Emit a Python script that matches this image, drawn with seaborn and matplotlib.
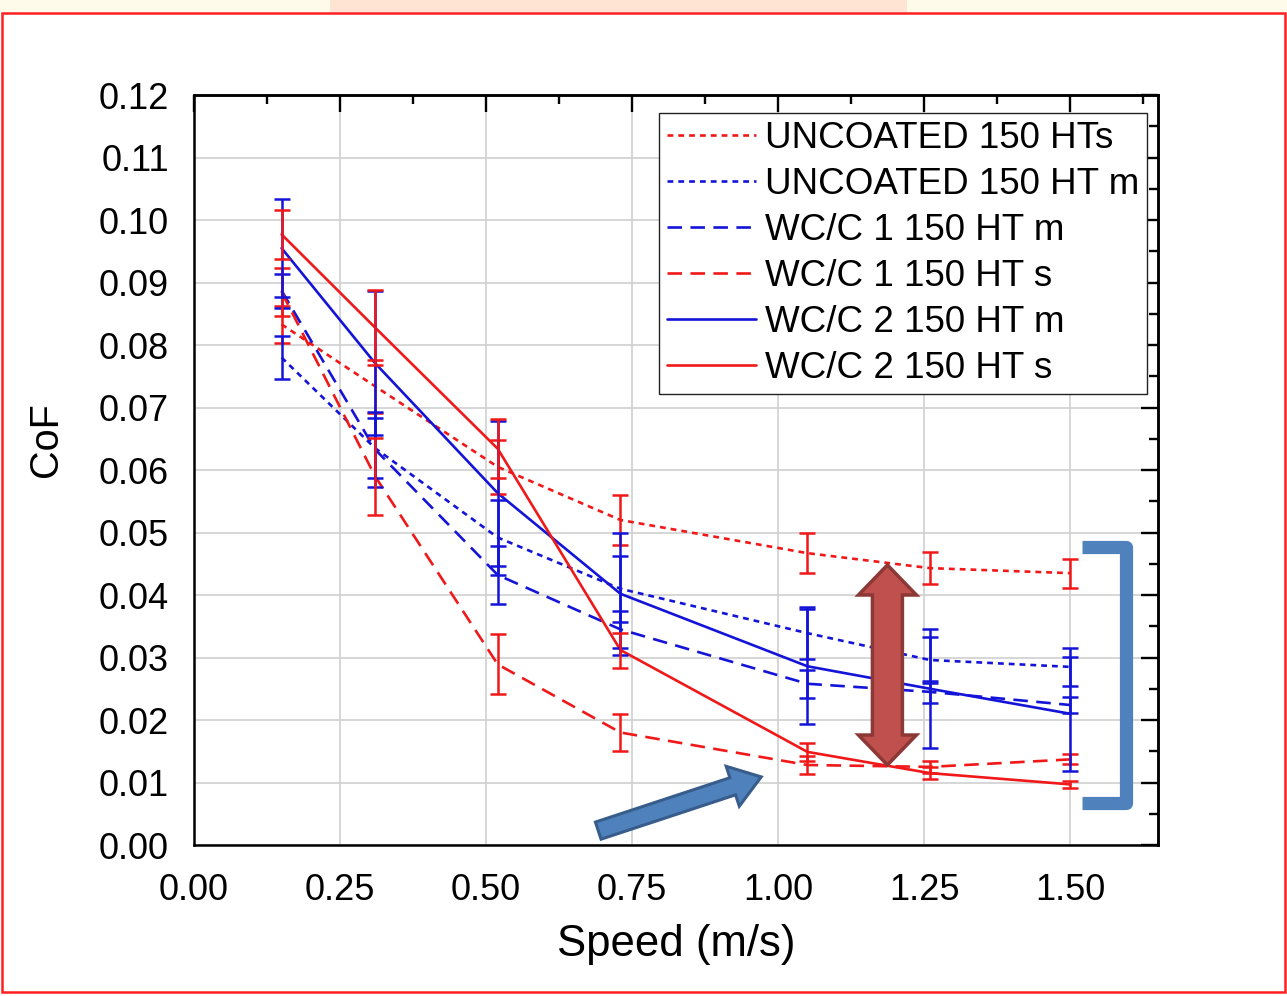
import numpy as np
import pandas as pd
import matplotlib.pyplot as plt
import matplotlib.patches as mpatches
from matplotlib.transforms import IdentityTransform
from matplotlib.ticker import MultipleLocator, FormatStrFormatter
import seaborn as sns

# Speeds tested (m/s)
speed = [0.15, 0.31, 0.52, 0.73, 1.05, 1.26, 1.50]

# Mean coefficient of friction and error bar half-widths
uncoated_s = [0.0833, 0.0734, 0.0605, 0.0520, 0.0467, 0.0443, 0.0435]
uncoated_s_err = [0.0029, 0.0042, 0.0043, 0.0040, 0.0032, 0.0026, 0.0023]
uncoated_m = [0.0780, 0.0635, 0.0492, 0.0410, 0.0339, 0.0296, 0.0285]
uncoated_m_err = [0.0034, 0.0048, 0.0060, 0.0053, 0.0042, 0.0037, 0.0030]
wcc1_m = [0.0887, 0.0633, 0.0432, 0.0345, 0.0258, 0.0245, 0.0224]
wcc1_m_err = [0.0027, 0.0060, 0.0046, 0.0030, 0.0022, 0.0018, 0.0013]
wcc1_s = [0.0885, 0.0590, 0.0289, 0.0180, 0.0128, 0.0125, 0.0137]
wcc1_s_err = [0.0038, 0.0062, 0.0048, 0.0030, 0.0015, 0.0010, 0.0008]
wcc2_m = [0.0955, 0.0771, 0.0563, 0.0402, 0.0286, 0.0250, 0.0210]
wcc2_m_err = [0.0078, 0.0115, 0.0116, 0.0098, 0.0092, 0.0095, 0.0091]
wcc2_s = [0.0977, 0.0828, 0.0634, 0.0312, 0.0149, 0.0115, 0.0097]
wcc2_s_err = [0.0039, 0.0060, 0.0047, 0.0028, 0.0015, 0.0010, 0.0006]

labels = ["UNCOATED 150 HTs", "UNCOATED 150 HT m", "WC/C 1 150 HT m",
          "WC/C 1 150 HT s", "WC/C 2 150 HT m", "WC/C 2 150 HT s"]
means = [uncoated_s, uncoated_m, wcc1_m, wcc1_s, wcc2_m, wcc2_s]
errors = [uncoated_s_err, uncoated_m_err, wcc1_m_err, wcc1_s_err, wcc2_m_err, wcc2_s_err]

RED = "#f01818"
BLUE = "#1414d8"
colors = [RED, BLUE, BLUE, RED, BLUE, RED]
dash_styles = [(2.2, 1.9), (2.2, 1.9), (5.5, 3.2), (5.5, 3.2), "", ""]

df = pd.DataFrame({
    "speed": np.tile(speed, len(labels)),
    "cof": np.concatenate(means),
    "series": np.repeat(labels, len(speed)),
})

sns.set_theme(style="white")
plt.rcParams["font.family"] = ["Liberation Sans", "DejaVu Sans"]
plt.rcParams.update({
    "lines.linewidth": 1.9,
    "text.color": "black",
    "axes.labelcolor": "black",
    "xtick.color": "black",
    "ytick.color": "black",
})

fig = plt.figure(figsize=(12.87, 9.96), dpi=100)
ax = fig.add_axes([0.1507, 0.1516, 0.749, 0.753])

sns.lineplot(
    data=df, x="speed", y="cof", hue="series", style="series",
    hue_order=labels, style_order=labels,
    palette=dict(zip(labels, colors)),
    dashes=dict(zip(labels, dash_styles)),
    linewidth=1.9, ax=ax, legend="full", zorder=3,
)

for m, e, c in zip(means, errors, colors):
    ax.errorbar(speed, m, yerr=e, fmt="none", ecolor=c, elinewidth=1.8,
                capsize=5.8, capthick=1.8, zorder=3)

ax.set_xlim(0, 1.65)
ax.set_ylim(0, 0.12)
ax.xaxis.set_major_locator(MultipleLocator(0.25))
ax.xaxis.set_minor_locator(MultipleLocator(0.125))
ax.yaxis.set_major_locator(MultipleLocator(0.01))
ax.yaxis.set_minor_locator(MultipleLocator(0.005))
ax.xaxis.set_major_formatter(FormatStrFormatter("%.2f"))
ax.yaxis.set_major_formatter(FormatStrFormatter("%.2f"))
ax.tick_params(which="both", direction="out", top=False, right=False,
               width=1.7, colors="black", labelsize=26)
ax.tick_params(which="major", length=12)
ax.tick_params(which="minor", length=6.5)
ax.tick_params(axis="y", pad=6)
ax.tick_params(axis="x", pad=8)
ax.grid(True, which="major", color="#d0d0d0", linewidth=1.2)
ax.set_axisbelow(True)
for side in ax.spines.values():
    side.set_linewidth(1.8)
    side.set_color("black")

# top and right ticks point inward (drawn above the grid)
top = ax.secondary_xaxis("top")
top.xaxis.set_major_locator(MultipleLocator(0.25))
top.xaxis.set_minor_locator(MultipleLocator(0.125))
top.tick_params(which="both", direction="in", labeltop=False, width=1.7, colors="black")
top.tick_params(which="major", length=12)
top.tick_params(which="minor", length=6.5)
top.spines["top"].set_linewidth(1.8)
top.spines["top"].set_color("black")
right = ax.secondary_yaxis("right")
right.yaxis.set_major_locator(MultipleLocator(0.01))
right.yaxis.set_minor_locator(MultipleLocator(0.005))
right.tick_params(which="both", direction="in", labelright=False, width=1.7, colors="black")
right.tick_params(which="major", length=12)
right.tick_params(which="minor", length=6.5)
right.spines["right"].set_linewidth(1.8)
right.spines["right"].set_color("black")
for sec in (top, right):
    sec.patch.set_visible(False)
    sec.set_zorder(2)

ax.set_xlabel("Speed (m/s)", fontsize=31.5, labelpad=12)
ax.set_ylabel("CoF", fontsize=28.5, labelpad=24, y=0.54)

sns.move_legend(
    ax, "upper right", bbox_to_anchor=(0.9886, 0.976), title=None,
    frameon=True, fontsize=26.5, handlelength=2.4, handletextpad=0.24,
    borderpad=0.22, labelspacing=0.3, borderaxespad=0, fancybox=False,
    edgecolor="#222222", framealpha=1,
)
leg = ax.get_legend()
leg.get_frame().set_linewidth(1.0)
leg.set_zorder(8)
for h in leg.get_lines():
    h.set_linewidth(1.9)
for t in leg.get_texts():
    t.set_color("black")


# --- callout shapes (block arrows in pixel space, anchored to data points)
def px(x, y):
    return np.array(ax.transData.transform((x, y)))


def block_arrow(tail, tip, w, h, head_len, fc, ec, lw, double=False):
    p0, p1 = px(*tail), px(*tip)
    u = (p1 - p0) / np.linalg.norm(p1 - p0)
    n = np.array([-u[1], u[0]])
    b1 = p1 - head_len * u
    if double:
        b0 = p0 + head_len * u
        pts = [p1, b1 + h * n, b1 + w * n, b0 + w * n, b0 + h * n, p0,
               b0 - h * n, b0 - w * n, b1 - w * n, b1 - h * n]
    else:
        pts = [p0 + w * n, b1 + w * n, b1 + h * n, p1, b1 - h * n,
               b1 - w * n, p0 - w * n]
    poly = mpatches.Polygon(pts, closed=True, facecolor=fc, edgecolor=ec,
                            linewidth=lw, transform=IdentityTransform(),
                            zorder=6, joinstyle="miter")
    ax.add_patch(poly)


block_arrow((0.692, 0.0023), (0.971, 0.0109), w=9, h=21, head_len=30,
            fc="#4f81bd", ec="#385d8a", lw=2.2)
block_arrow((1.187, 0.0128), (1.187, 0.0448), w=15, h=29, head_len=30,
            fc="#c0504d", ec="#8c3836", lw=2.5, double=True)

# bracket on the right
ax.plot([1.5205, 1.5957, 1.5957, 1.5205], [0.04768, 0.04768, 0.00672, 0.00672],
        color="#4f81bd", linewidth=9.5, solid_joinstyle="round",
        solid_capstyle="butt", clip_on=False, zorder=6)
ax.set_xlim(0, 1.65)
ax.set_ylim(0, 0.12)

# slide frame: coloured strip on top and red border
W, H = 1287, 996
fig.add_artist(mpatches.Rectangle((0, 1 - 12 / H), 1, 12 / H, facecolor="#fffbea",
                                  edgecolor="none", transform=fig.transFigure))
fig.add_artist(mpatches.Rectangle((330 / W, 1 - 12 / H), 577 / W, 12 / H,
                                  facecolor="#ffe3d3", edgecolor="none",
                                  transform=fig.transFigure))
fig.add_artist(mpatches.Rectangle((1.5 / W, 4 / H), 1283.5 / W, (H - 17) / H,
                                  facecolor="none", edgecolor="#ff2020",
                                  linewidth=1.8, transform=fig.transFigure))

fig.savefig("out.png", dpi=100)
